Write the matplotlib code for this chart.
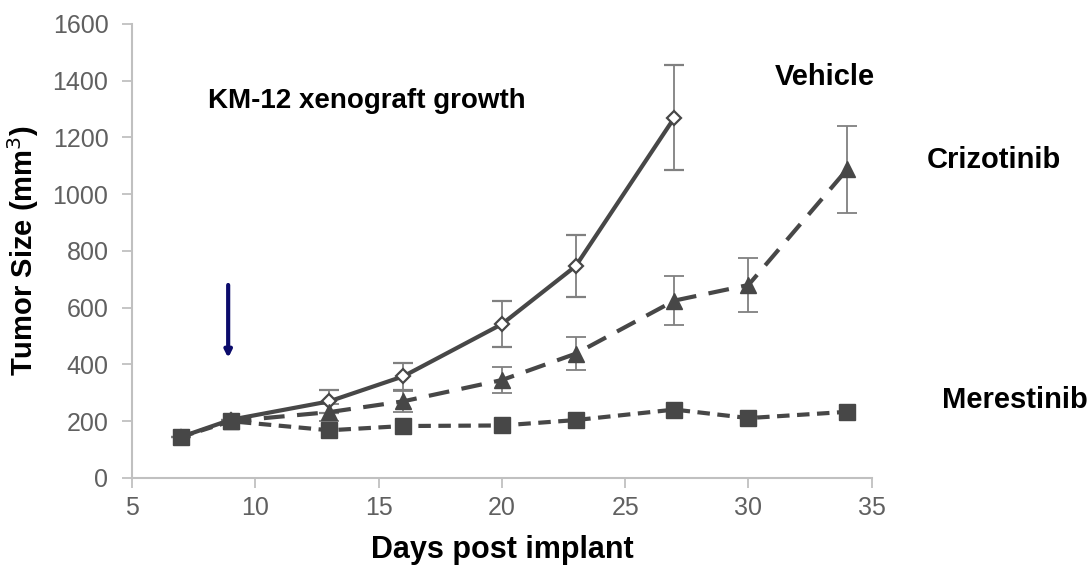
import matplotlib
matplotlib.use('Agg')
import matplotlib.pyplot as plt

plt.rcParams['font.family'] = ['Liberation Sans', 'DejaVu Sans']

veh_days = [7, 9, 13, 16, 20, 23, 27]
veh_size = [145, 205, 270, 358, 542, 747, 1270]
veh_err = [0, 0, 40, 48, 80, 108, 185]

cri_days = [9, 13, 16, 20, 23, 27, 30, 34]
cri_size = [200, 232, 270, 345, 438, 625, 680, 1087]
cri_err = [0, 30, 38, 47, 58, 85, 95, 152]

mer_days = [7, 9, 13, 16, 20, 23, 27, 30, 34]
mer_size = [145, 200, 168, 183, 185, 204, 241, 211, 233]

line_col = '#474747'

fig = plt.figure(figsize=(10.91, 5.69), dpi=100)
ax = fig.add_axes([0.121, 0.16, 0.678, 0.798])

ax.errorbar(veh_days, veh_size, yerr=veh_err, color=line_col, lw=3, ls='-',
            marker='D', ms=7, mfc='white', mec=line_col, mew=1.6,
            ecolor='#808080', elinewidth=1.3, capsize=7, capthick=1.3, zorder=3)
ax.errorbar(cri_days, cri_size, yerr=cri_err, color=line_col, lw=3, ls=(0, (5, 3)),
            marker='^', ms=11, mfc=line_col, mec=line_col,
            ecolor='#808080', elinewidth=1.3, capsize=7, capthick=1.3, zorder=3)
ax.plot(mer_days, mer_size, color=line_col, lw=3, ls=(0, (3, 1.8)),
        marker='s', ms=11, mfc=line_col, mec=line_col, zorder=4)

# treatment start arrow
ax.annotate('', xy=(8.9, 423), xytext=(8.9, 680),
            arrowprops=dict(arrowstyle='-|>', color='#0b0b6b', lw=3,
                            mutation_scale=10, shrinkA=0, shrinkB=0))

ax.text(8.08, 1330, 'KM-12 xenograft growth', fontsize=20, fontweight='bold', va='center')
ax.text(31.06, 1413, 'Vehicle', fontsize=21, fontweight='bold', va='center')
ax.text(37.22, 1120, 'Crizotinib', fontsize=21, fontweight='bold', va='center')
ax.text(37.87, 275, 'Merestinib', fontsize=21, fontweight='bold', va='center')

ax.set_xlim(5, 35)
ax.set_ylim(0, 1600)
ax.set_xticks(range(5, 36, 5))
ax.set_yticks(range(0, 1601, 200))
ax.tick_params(colors='#c0c0c0', labelcolor='#606060', labelsize=18, length=7, width=1.3)
ax.tick_params(axis='y', pad=10)
ax.tick_params(axis='x', pad=6)

for s in ['top', 'right']:
    ax.spines[s].set_visible(False)
for s in ['left', 'bottom']:
    ax.spines[s].set_color('#c0c0c0')
    ax.spines[s].set_linewidth(1.5)

ax.set_xlabel('Days post implant', fontsize=22, fontweight='bold', labelpad=11)
ax.set_ylabel('Tumor Size (mm$^3$)', fontsize=21, fontweight='bold', labelpad=8)

fig.savefig('out.png', dpi=100)
